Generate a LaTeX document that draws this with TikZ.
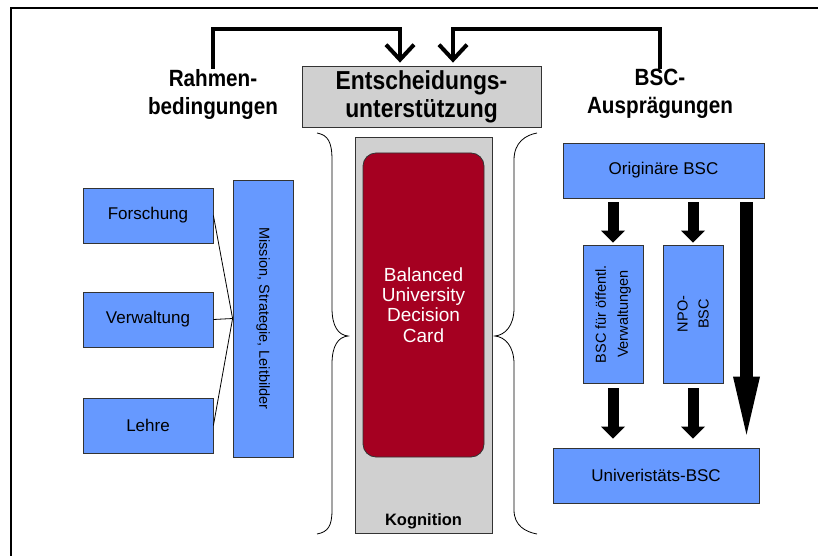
\documentclass[tikz,border=0pt]{standalone}
\usepackage{fontspec}
\setmainfont{Liberation Sans}
\newfontfamily\condfont{Liberation Sans}[FakeStretch=0.88]
\usetikzlibrary{arrows.meta,calc}
\definecolor{boxblue}{RGB}{102,153,255}
\definecolor{cardred}{RGB}{165,0,33}
\definecolor{boxgray}{RGB}{208,208,208}
\newcommand{\myfs}[2]{\fontsize{#1}{#2}\selectfont}
\tikzset{
  bluebox/.style={draw=black!80, line width=0.8pt, fill=boxblue, inner sep=0pt, align=center, font=\myfs{17}{19}},
  graybox/.style={draw=black!80, line width=0.8pt, fill=boxgray, inner sep=0pt, align=center},
  heading/.style={align=center, font=\condfont\myfs{23.5}{28}\bfseries, inner sep=0pt},
  bracketline/.style={line width=4pt, -{Straight Barb[length=15pt,width=28pt]}, shorten >=3pt},
  thinline/.style={line width=0.8pt},
  brace/.style={line width=0.8pt},
  shortarrow/.style={line width=11pt, -{Triangle[length=12pt,width=24pt,line width=0pt]}},
  longarrow/.style={line width=13pt, -{Triangle[length=58pt,width=27pt,line width=0pt]}},
}
\begin{document}
\begin{tikzpicture}[x=1pt,y=-1pt]
\useasboundingbox (0,0) rectangle (818,556);
% frame (top and left only)
\draw[line width=2.5pt] (11,556) -- (11,8) -- (818,8);

% top area
\node[graybox, minimum width=239pt, minimum height=61pt, font=\condfont\myfs{26}{28}\bfseries] (ent) at (421.5,96.5) {Entscheidungs-\\unterstützung};
\node[heading] (rahmen) at (213,94) {Rahmen-\\bedingungen};
\node[heading] (bscaus) at (660,94) {BSC-\\Ausprägungen};
\coordinate (tl) at (400,29);
\coordinate (tr) at (453,29);
\draw[bracketline] (rahmen.north) |- (tl) -- (tl |- ent.north);
\draw[bracketline] (bscaus.north) |- (tr) -- (tr |- ent.north);

% centre column
\node[graybox, minimum width=137pt, minimum height=396pt] (kog) at (423.5,335) {};
\node[draw=black!80, line width=0.8pt, fill=cardred, rounded corners=13pt, minimum width=121pt, minimum height=304pt, inner sep=0pt, align=center, text=white, font=\myfs{19}{20.3}] (card) at (423.5,305) {Balanced\\University\\Decision\\Card};
\node[font=\myfs{16.5}{18}\bfseries, inner sep=0pt] (kogtxt) at (423.5,521) {Kognition};

% braces
\draw[brace] (317,133) .. controls (328,135) and (332,142) .. (332,160) -- (332,308)
  .. controls (332,326) and (338,335) .. (348,336)
  .. controls (338,337) and (332,346) .. (332,364) -- (332,510)
  .. controls (332,526) and (328,532) .. (317,534);
\draw[brace] (537,133) .. controls (526,135) and (514,142) .. (514,160) -- (514,308)
  .. controls (514,326) and (505,335) .. (495,336)
  .. controls (505,337) and (514,346) .. (514,364) -- (514,510)
  .. controls (514,526) and (526,532) .. (537,534);

% left side
\node[bluebox, minimum width=130pt, minimum height=55pt] (forsch) at (148,215.5) {Forschung};
\node[bluebox, minimum width=130pt, minimum height=55pt] (verw) at (148,319.5) {Verwaltung};
\node[bluebox, minimum width=130pt, minimum height=55pt] (lehre) at (148,425.5) {Lehre};
\node[bluebox, minimum width=60pt, minimum height=277pt] (mission) at (263,318.5) {};
\node[rotate=-90, font=\myfs{14.5}{17}, inner sep=0pt] (missiontxt) at (mission.center) {Mission, Strategie, Leitbilder};
\draw[thinline] (forsch.east) -- (mission.west);
\draw[thinline] (verw.east) -- (mission.west);
\draw[thinline] (lehre.east) -- (mission.west);

% right side
\node[bluebox, minimum width=201pt, minimum height=55pt] (orig) at (663.5,170.5) {Originäre BSC};
\node[bluebox, minimum width=60pt, minimum height=138pt] (oeff) at (613,314) {};
\node[rotate=90, align=center, font=\myfs{14.5}{22}, inner sep=0pt] (oefftxt) at (oeff.center) {BSC für öffentl.\\Verwaltungen};
\node[bluebox, minimum width=60pt, minimum height=138pt] (npo) at (693,314) {};
\node[rotate=90, align=center, font=\myfs{14.5}{21}, inner sep=0pt] (npotxt) at (npo.center) {NPO-\\BSC};
\node[bluebox, minimum width=206pt, minimum height=55pt] (uni) at (656,475.5) {Univeristäts-BSC};

\draw[shortarrow] ([yshift=-4pt]orig.south -| oeff.north) -- ([yshift=2pt]oeff.north);
\draw[shortarrow] ([yshift=-4pt]orig.south -| npo.north) -- ([yshift=2pt]npo.north);
\draw[shortarrow] ([yshift=-5pt]oeff.south) -- ([yshift=9pt]uni.north -| oeff.south);
\draw[shortarrow] ([yshift=-5pt]npo.south) -- ([yshift=9pt]uni.north -| npo.south);
\coordinate (lastart) at (746.5,202);
\draw[longarrow] (lastart) -- ([yshift=13pt]uni.north -| lastart);
\end{tikzpicture}
\end{document}
